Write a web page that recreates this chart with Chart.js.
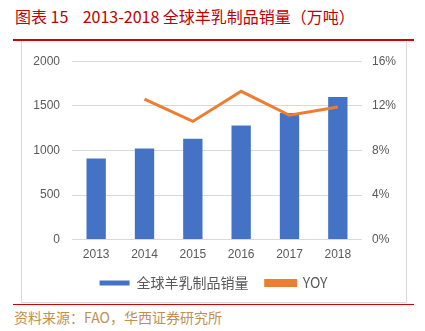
<!DOCTYPE html>
<html>
<head>
<meta charset="utf-8">
<script src="https://cdn.jsdelivr.net/npm/chart.js@4"></script>
<style>
  body { margin: 0; background: #fff; width: 425px; height: 331px; position: relative; overflow: hidden; font-family: "Noto Sans CJK SC", sans-serif; }
  #title { position: absolute; left: 15px; top: 4px; font-size: 16px; color: #c00000; white-space: pre; }
  #topLine { position: absolute; left: 13px; top: 39px; width: 401px; height: 2px; background: #d00000; }
  #box { position: absolute; left: 21px; top: 41px; width: 384px; height: 261px; border: 1px solid #d9d9d9; border-top: none; }
  #bottomLine { position: absolute; left: 13px; top: 304px; width: 401px; height: 1px; background: #d00000; }
  #source { position: absolute; left: 14px; top: 307px; font-size: 14px; color: #c09050; }
  #wrap { position: absolute; left: 22px; top: 42px; width: 383px; height: 261px; }
</style>
</head>
<body>
<div id="title">图表 15    2013-2018 全球羊乳制品销量（万吨）</div>
<div id="topLine"></div>
<div id="box"></div>
<div id="wrap"><canvas id="myChart"></canvas></div>
<div id="bottomLine"></div>
<div id="source">资料来源：FAO，华西证券研究所</div>
<script>
'use strict';

let years = ['2013', '2014', '2015', '2016', '2017', '2018'];
let salesValues = [910, 1020, 1130, 1280, 1420, 1600];
let yoyValues = [null, 12.6, 10.6, 13.3, 11.15, 11.9];
let leftTicks = [0, 500, 1000, 1500, 2000];
let rightTicks = [0, 4, 8, 12, 16];

let tickFont = { family: 'Liberation Sans', size: 12 };

let ctx = document.getElementById('myChart').getContext('2d');
let chart = new Chart(ctx, {
    type: 'bar',
    data: {
        labels: years,
        datasets: [{
            label: '全球羊乳制品销量',
            data: salesValues,
            backgroundColor: '#4472c4',
            borderColor: '#4472c4',
            categoryPercentage: 0.8,
            barPercentage: 0.5,
            yAxisID: 'y',
            order: 1
        }, {
            type: 'line',
            label: 'YOY',
            data: yoyValues,
            borderColor: '#ed7d31',
            backgroundColor: '#ed7d31',
            borderWidth: 3,
            pointRadius: 0,
            tension: 0,
            yAxisID: 'y1',
            order: 0
        }]
    },
    options: {
        responsive: true,
        maintainAspectRatio: false,
        animation: false,
        layout: { padding: { top: 10, left: 0, right: 0, bottom: 3 } },
        plugins: {
            legend: {
                position: 'bottom',
                labels: {
                    boxWidth: 30,
                    boxHeight: 5,
                    color: '#595959',
                    padding: 14,
                    font: { family: 'Noto Sans CJK SC', size: 14 },
                    sort: function (a, b) { return a.datasetIndex - b.datasetIndex; },
                    filter: function (item) {
                        // a little extra room after the first label, as in the original
                        if (item.datasetIndex === 0) item.text = item.text + ' ';
                        return true;
                    }
                }
            },
            tooltip: { enabled: false }
        },
        scales: {
            x: {
                grid: { display: false },
                border: { display: false },
                ticks: { color: '#595959', font: tickFont, padding: 0 }
            },
            y: {
                position: 'left',
                min: 0,
                max: 2000,
                afterBuildTicks: function (axis) {
                    axis.ticks = leftTicks.map(v => ({ value: v }));
                },
                afterFit: function (axis) { axis.width = 50; },
                grid: { color: '#d9d9d9', lineWidth: 1, drawTicks: false },
                border: { display: false },
                ticks: {
                    color: '#595959',
                    font: tickFont,
                    padding: 12,
                    callback: function (v) { return String(v); }
                }
            },
            y1: {
                position: 'right',
                min: 0,
                max: 16,
                afterBuildTicks: function (axis) {
                    axis.ticks = rightTicks.map(v => ({ value: v }));
                },
                afterFit: function (axis) { axis.width = 43; },
                grid: { display: false, drawTicks: false },
                border: { display: false },
                ticks: {
                    color: '#595959',
                    font: tickFont,
                    padding: 10,
                    callback: function (v) { return v + '%'; }
                }
            }
        }
    }
});
</script>
</body>
</html>
